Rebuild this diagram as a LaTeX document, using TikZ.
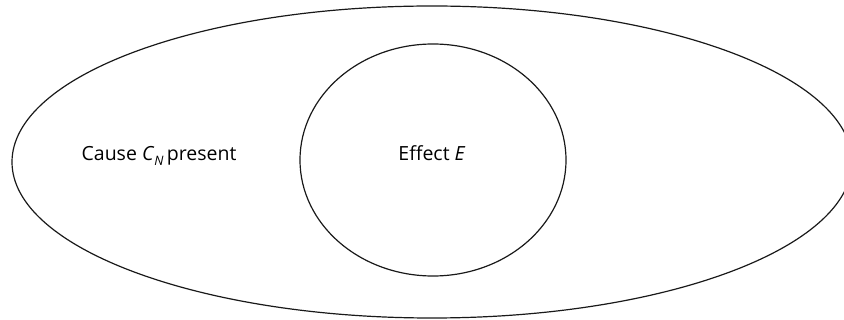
\documentclass[tikz,border=0pt]{standalone}
\usepackage{fontspec}
\setmainfont{Open Sans}
\begin{document}
\begin{tikzpicture}[x=1pt,y=-1pt,
  venn/.style={draw=black!90,line width=1.2pt},
  lbl/.style={font=\fontsize{19.5}{22}\selectfont,text=black,inner sep=0pt,anchor=base}]
\useasboundingbox (0,0) rectangle (844,320);
\clip (0,0) rectangle (844,320);
\draw[venn] (432,162) ellipse [x radius=420, y radius=156];
\draw[venn] (433,160) ellipse [x radius=133, y radius=116];
\node[lbl] (cause) at (159,161) {Cause \textit{C}\raisebox{-0.45ex}{\fontsize{13}{13}\selectfont\textit{N}}\,present};
\node[lbl] (effect) at (432,161) {Effect \textit{E}};
\end{tikzpicture}
\end{document}
